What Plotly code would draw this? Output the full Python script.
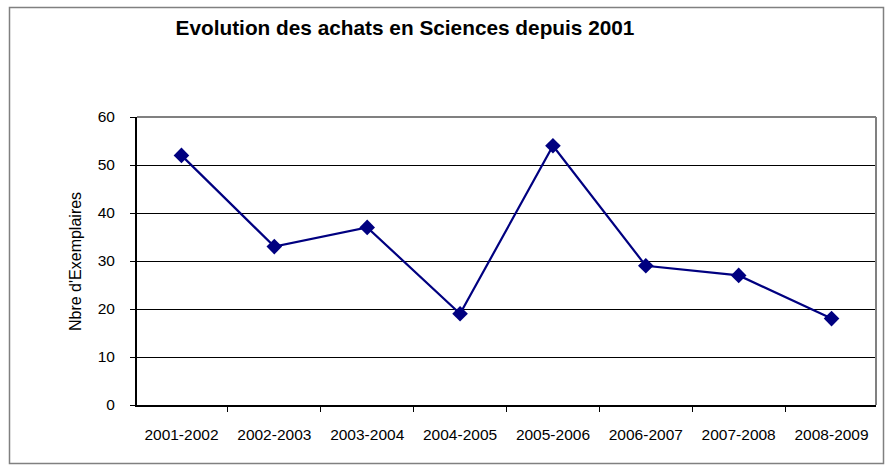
import plotly.graph_objects as go

categories = ["2001-2002", "2002-2003", "2003-2004", "2004-2005",
              "2005-2006", "2006-2007", "2007-2008", "2008-2009"]
values = [52, 33, 37, 19, 54, 29, 27, 18]
y_ticks = [0, 10, 20, 30, 40, 50, 60]

W, H = 896, 469
L, R, T, B = 137, 20, 117, 64
pw, ph = W - L - R, H - T - B

def px_x(x):
    return (x - L) / pw

def px_y(y):
    return (H - B - y) / ph

fig = go.Figure()
fig.add_trace(go.Scatter(
    x=categories, y=values, mode="lines+markers",
    line=dict(color="#000080", width=2.2),
    marker=dict(symbol="diamond", size=12, color="#000080"),
    showlegend=False,
))

font = "Liberation Sans, Arial, sans-serif"
fig.update_layout(
    width=W, height=H,
    margin=dict(l=L, r=R, t=T, b=B, autoexpand=False),
    paper_bgcolor="white", plot_bgcolor="white",
    font=dict(family=font, size=15, color="black"),
    title=dict(text="<b>Evolution des achats en Sciences depuis 2001</b>",
               x=px_x(405), xref="paper", xanchor="center",
               y=1 - 28 / H, yanchor="middle",
               font=dict(size=20.8, family=font, color="black")),
    xaxis=dict(type="category", showgrid=False, showline=True, linecolor="black",
               linewidth=2, ticks="outside", tickson="boundaries", ticklen=5,
               tickcolor="black", tickfont=dict(size=15.5), zeroline=False,
               ticklabelstandoff=14),
    yaxis=dict(range=[0, 60], tickvals=y_ticks, showgrid=True, gridcolor="black",
               gridwidth=1, showline=True, linecolor="black", linewidth=2,
               ticks="outside", ticklen=5, tickcolor="black", zeroline=False,
               tickfont=dict(size=15.5), ticklabelstandoff=12),
    annotations=[
        dict(text="Nbre d'Exemplaires", xref="paper", yref="paper",
             x=px_x(75), y=px_y(262), xanchor="center", yanchor="middle",
             textangle=-90, showarrow=False, font=dict(size=16, color="black")),
    ],
    shapes=[
        dict(type="rect", xref="paper", yref="paper",
             x0=px_x(9.5), x1=px_x(883.5), y0=px_y(463.5), y1=px_y(7.5),
             line=dict(color="#808080", width=1.5), layer="below"),
        dict(type="line", xref="paper", yref="paper", x0=0, x1=1, y0=1, y1=1,
             line=dict(color="#808080", width=2)),
        dict(type="line", xref="paper", yref="paper", x0=1, x1=1, y0=0, y1=1,
             line=dict(color="#808080", width=2)),
    ],
)

fig.write_html("out.html", config={"displayModeBar": False},
               post_script="document.body.style.margin='0';document.body.style.overflow='hidden';")
